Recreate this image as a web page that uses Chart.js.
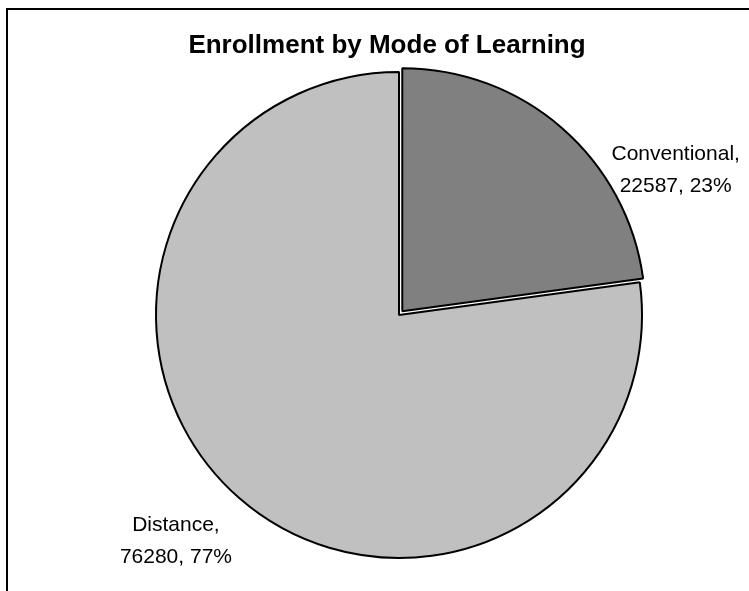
<!DOCTYPE html>
<html>
<head>
<meta charset="utf-8">
<script src="https://cdn.jsdelivr.net/npm/chart.js@4"></script>
<style>
  html, body { margin: 0; padding: 0; background: #fff; overflow: hidden; }
  #wrap { position: relative; width: 749px; height: 591px; }
  #frame { position: absolute; left: 6px; top: 8px; width: 800px; height: 650px; border: 2px solid #000; box-sizing: border-box; }
  canvas { position: absolute; left: 0; top: 0; }
</style>
</head>
<body>
<div id="wrap">
  <div id="frame"></div>
  <canvas id="myChart" width="749" height="591"></canvas>
</div>
<script>
var categories = ['Conventional', 'Distance'];
var enrollment = [22587, 76280];
var percents = ['23%', '77%'];
var sliceColors = ['#808080', '#c0c0c0'];
var explode = [20, 0];

var FONT = "'Liberation Sans', Arial, sans-serif";

// label placement: angle shift from the slice bisector (deg) and distance from centre (px)
var labelShift = [21, 3.6];
var labelDist = [313, 317];

var chartTitle = {
    id: 'chartTitle',
    afterDraw: function(chart) {
        var c = chart.ctx;
        c.save();
        c.font = 'bold 26px ' + FONT;
        c.fillStyle = '#000';
        c.textAlign = 'center';
        c.textBaseline = 'alphabetic';
        c.fillText('Enrollment by Mode of Learning', 387, 53);
        c.restore();
    }
};

var sliceLabels = {
    id: 'sliceLabels',
    afterDatasetsDraw: function(chart) {
        var c = chart.ctx;
        var meta = chart.getDatasetMeta(0);
        c.save();
        c.font = '21px ' + FONT;
        c.fillStyle = '#000';
        c.textAlign = 'center';
        c.textBaseline = 'alphabetic';
        meta.data.forEach(function(arc, i) {
            var p = arc.getProps(['x', 'y', 'startAngle', 'endAngle']);
            var a = (p.startAngle + p.endAngle) / 2 + labelShift[i] * Math.PI / 180;
            var x = p.x + Math.cos(a) * labelDist[i];
            var y = p.y + Math.sin(a) * labelDist[i];
            c.fillText(categories[i] + ',', x, y - 9);
            c.fillText(enrollment[i] + ', ' + percents[i], x, y + 23);
        });
        c.restore();
    }
};

var ctx = document.getElementById('myChart').getContext('2d');
var chart = new Chart(ctx, {
    type: 'pie',
    data: {
        labels: categories,
        datasets: [{
            data: enrollment,
            backgroundColor: sliceColors,
            borderColor: '#000',
            borderWidth: 2,
            hoverBorderWidth: 2,
            offset: explode,
            hoverOffset: 0
        }]
    },
    options: {
        responsive: false,
        animation: false,
        events: [],
        layout: { padding: { left: 99, right: 50, top: 61, bottom: 22 } },
        plugins: {
            legend: { display: false },
            title: { display: false },
            tooltip: { enabled: false }
        }
    },
    plugins: [chartTitle, sliceLabels]
});
</script>
</body>
</html>
